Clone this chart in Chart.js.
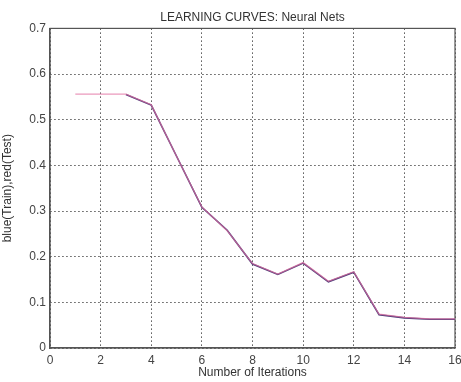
<!DOCTYPE html>
<html>
<head>
<meta charset="utf-8">
<script src="https://cdn.jsdelivr.net/npm/chart.js@4"></script>
<style>
  html, body { margin: 0; padding: 0; background: #fff; }
  #wrap { width: 461px; height: 382px; }
</style>
</head>
<body>
<div id="wrap"><canvas id="lc" width="461" height="382"></canvas></div>
<script>
// iterations 1..16
const iterations = [1, 2, 3, 4, 5, 6, 7, 8, 9, 10, 11, 12, 13, 14, 15, 16];
const trainErr = [null, null, 0.555, 0.532, 0.42, 0.308, 0.258, 0.184, 0.161, 0.186, 0.145, 0.166, 0.073, 0.066, 0.063, 0.063];
const testErr  = [0.556, 0.556, 0.556, 0.533, 0.42, 0.309, 0.257, 0.185, 0.162, 0.187, 0.146, 0.167, 0.074, 0.067, 0.064, 0.064];

const FONT = 'Liberation Sans, Arial, sans-serif';
const pts = arr => iterations.map((x, i) => ({ x, y: arr[i] }));

const gridStyle = { color: '#555', lineWidth: 1, drawTicks: false };

new Chart(document.getElementById('lc'), {
    type: 'line',
    data: {
        datasets: [
            { label: 'Train', data: pts(trainErr), borderColor: '#4a3a78', borderWidth: 1.6, pointRadius: 0, tension: 0, order: 2 },
            { label: 'Test',  data: pts(testErr),  borderColor: 'rgba(225,110,160,0.7)', borderWidth: 1.3, pointRadius: 0, tension: 0, order: 1 },
        ],
    },
    options: {
        responsive: false, animation: false,
        layout: { padding: { left: 0, right: 6, top: 0, bottom: 0 } },
        plugins: {
            legend: { display: false },
            tooltip: { enabled: false },
            title: {
                display: true, fullSize: false, text: 'LEARNING CURVES: Neural Nets', color: '#333',
                font: { family: FONT, size: 12, weight: 'normal' },
                padding: { top: 10, bottom: 4 },
            },
        },
        scales: {
            x: {
                type: 'linear', min: 0, max: 16,
                ticks: { stepSize: 2, color: '#444', padding: 5, font: { family: FONT, size: 12 } },
                grid: gridStyle,
                border: { display: true, color: '#555', width: 1.2, dash: [1.5, 2.5] },
                title: { display: true, text: 'Number of Iterations', color: '#333', padding: { top: 1, bottom: 2 }, font: { family: FONT, size: 12 } },
                afterFit: s => { s.height = 34; s.paddingLeft = 0; s.paddingRight = 0; },
            },
            y: {
                min: 0, max: 0.7,
                ticks: { stepSize: 0.1, color: '#444', padding: 4, font: { family: FONT, size: 12 } },
                grid: gridStyle,
                border: { display: true, color: '#555', width: 1.2, dash: [1.5, 2.5] },
                title: { display: true, text: 'blue(Train),red(Test)', color: '#333', padding: { top: 0, bottom: 0 }, font: { family: FONT, size: 12 } },
                afterFit: s => { s.width = 50; },
            },
        },
    },
    plugins: [{
        id: 'frame',
        beforeDatasetsDraw(chart) {
            const { ctx, chartArea: a } = chart;
            ctx.save();
            ctx.strokeStyle = '#555';
            ctx.lineWidth = 1.2;
            ctx.setLineDash([]);
            ctx.strokeRect(a.left, a.top, a.right - a.left, a.bottom - a.top);
            ctx.restore();
        },
    }],
});
</script>
</body>
</html>
